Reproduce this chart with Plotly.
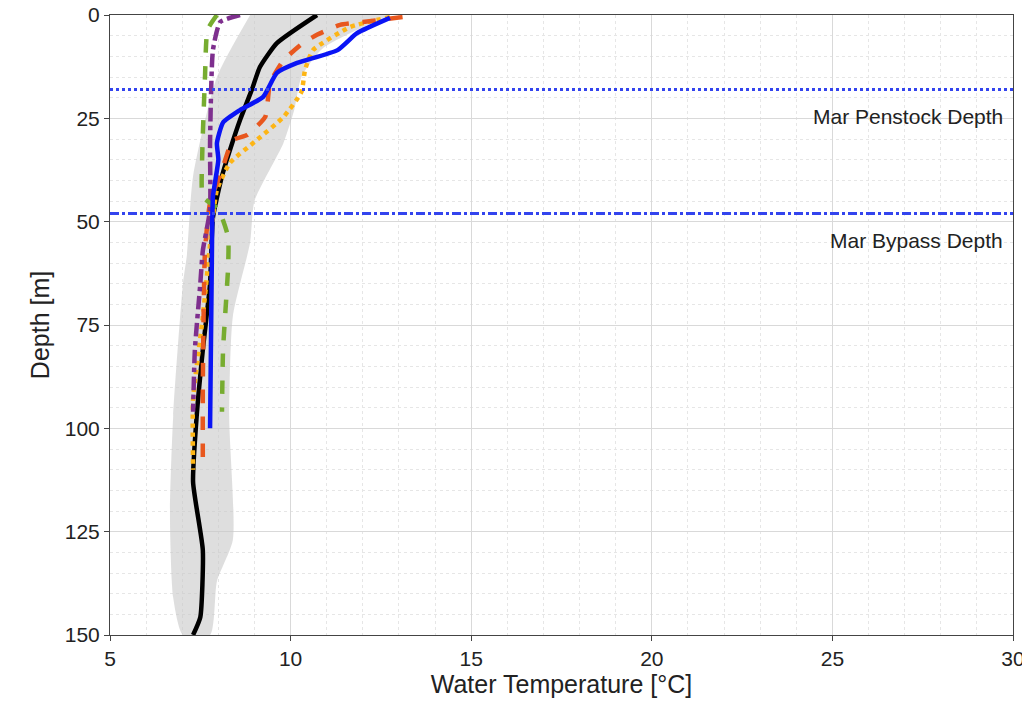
import plotly.graph_objects as go

# ---- data ----
band_depth = [0, 8, 15, 23, 31, 45, 55, 73, 97, 127, 137, 150]
band_right = [12.75, 10.9, 10.3, 10.1, 9.8, 9.0, 8.88, 8.4, 8.3, 8.4, 7.96, 7.77]
band_left_depth = [0, 15, 39, 58, 65, 97, 121, 141, 150]
band_left = [8.88, 7.96, 7.3, 7.13, 7.02, 6.75, 6.66, 6.75, 7.02]

black_d = [0, 6.8, 12.6, 18, 25.4, 32.7, 39, 49, 65, 81, 97, 113, 129.5, 145.7, 150]
black_t = [10.73, 9.62, 9.15, 8.93, 8.6, 8.32, 8.1, 7.85, 7.77, 7.57, 7.4, 7.3, 7.57, 7.5, 7.3]

blue_d = [0.7, 4.4, 8.5, 11.6, 14, 19.8, 23, 26, 31, 35, 44, 59, 100]
blue_t = [12.75, 11.84, 11.3, 10.18, 9.62, 9.24, 8.6, 8.13, 7.96, 8.0, 7.85, 7.82, 7.77]

orange_d = [0.5, 1.7, 2.4, 4.8, 6.8, 11, 16.5, 24.6, 29, 30.3, 37.5, 45.5, 57, 89, 110]
orange_t = [13.1, 12.0, 11.37, 10.73, 10.34, 9.8, 9.43, 9.3, 8.8, 8.4, 8.1, 7.77, 7.63, 7.57, 7.57]

yellow_d = [0.5, 2.9, 8.5, 13.3, 18.6, 24.7, 30.2, 35.8, 42.3, 48.9, 73, 93, 110]
yellow_t = [12.75, 11.65, 10.62, 10.4, 10.3, 9.8, 9.07, 8.32, 7.96, 7.85, 7.57, 7.3, 7.3]

purple_d = [0, 1.7, 8.5, 31, 47, 57, 65, 81, 96]
purple_t = [8.6, 8.05, 7.85, 7.77, 7.77, 7.57, 7.5, 7.35, 7.3]

green_d = [0, 3.6, 15, 35, 44, 47, 53.7, 61, 81, 96]
green_t = [7.96, 7.7, 7.63, 7.55, 7.57, 8.0, 8.27, 8.27, 8.13, 8.1]

penstock_depth = 18
bypass_depth = 48
x_ticks = [5, 10, 15, 20, 25, 30]
y_ticks = [0, 25, 50, 75, 100, 125, 150]

sp = dict(shape="spline", smoothing=0.5)
fig = go.Figure()
fig.add_trace(go.Scatter(x=band_right + band_left[::-1], y=band_depth + band_left_depth[::-1],
                         fill="toself", fillcolor="rgba(200,200,200,0.6)", line=dict(width=0, shape="spline", smoothing=0.6),
                         mode="lines", hoverinfo="skip"))
fig.add_trace(go.Scatter(x=black_t, y=black_d, mode="lines", line=dict(color="black", width=4.5, **sp)))
fig.add_trace(go.Scatter(x=yellow_t, y=yellow_d, mode="lines", line=dict(color="#FDB515", width=4.5, dash="dot", **sp)))
fig.add_trace(go.Scatter(x=orange_t, y=orange_d, mode="lines", line=dict(color="#E8571E", width=4.5, dash="dash", **sp)))
fig.add_trace(go.Scatter(x=purple_t, y=purple_d, mode="lines", line=dict(color="#7E2F8E", width=4.5, dash="dashdot", **sp)))
fig.add_trace(go.Scatter(x=green_t, y=green_d, mode="lines", line=dict(color="#77AC30", width=4.5, dash="dash", **sp)))
fig.add_trace(go.Scatter(x=blue_t, y=blue_d, mode="lines", line=dict(color="#0A14F5", width=4.5, **sp)))

fig.add_hline(y=penstock_depth, line=dict(color="#3344EE", width=3, dash="dot"))
fig.add_hline(y=bypass_depth, line=dict(color="#3344EE", width=3, dash="dashdot"))
fig.add_annotation(x=30, y=penstock_depth + 6.5, text="Mar Penstock Depth", showarrow=False,
                   xanchor="right", xshift=-8, font=dict(size=21, color="#222"))
fig.add_annotation(x=30, y=bypass_depth + 6.5, text="Mar Bypass Depth", showarrow=False,
                   xanchor="right", xshift=-8, font=dict(size=21, color="#222"))

fig.update_layout(
    width=1030, height=717, showlegend=False, plot_bgcolor="white", paper_bgcolor="white",
    margin=dict(l=102, r=25, t=7, b=90),
    font=dict(family="Liberation Sans, Arial", size=21, color="#222"),
)
fig.update_xaxes(range=[5, 30], tickvals=x_ticks, showgrid=True, gridcolor="#d9d9d9", automargin=False,
                 ticklabeloverflow="allow",
                 minor=dict(dtick=1, showgrid=True, gridcolor="#e6e6e6", griddash="dot"),
                 showline=True, linecolor="#444", mirror=True, ticks="outside",
                 title=dict(text="Water Temperature [°C]", standoff=5), zeroline=False)
fig.update_yaxes(range=[150, 0], tickvals=y_ticks, showgrid=True, gridcolor="#d9d9d9", automargin=False,
                 ticklabeloverflow="allow",
                 minor=dict(dtick=5, showgrid=True, gridcolor="#e6e6e6", griddash="dot"),
                 showline=True, linecolor="#444", mirror=True, ticks="outside",
                 title=dict(text="Depth [m]", standoff=8), zeroline=False)
fig.write_html("out.html")
